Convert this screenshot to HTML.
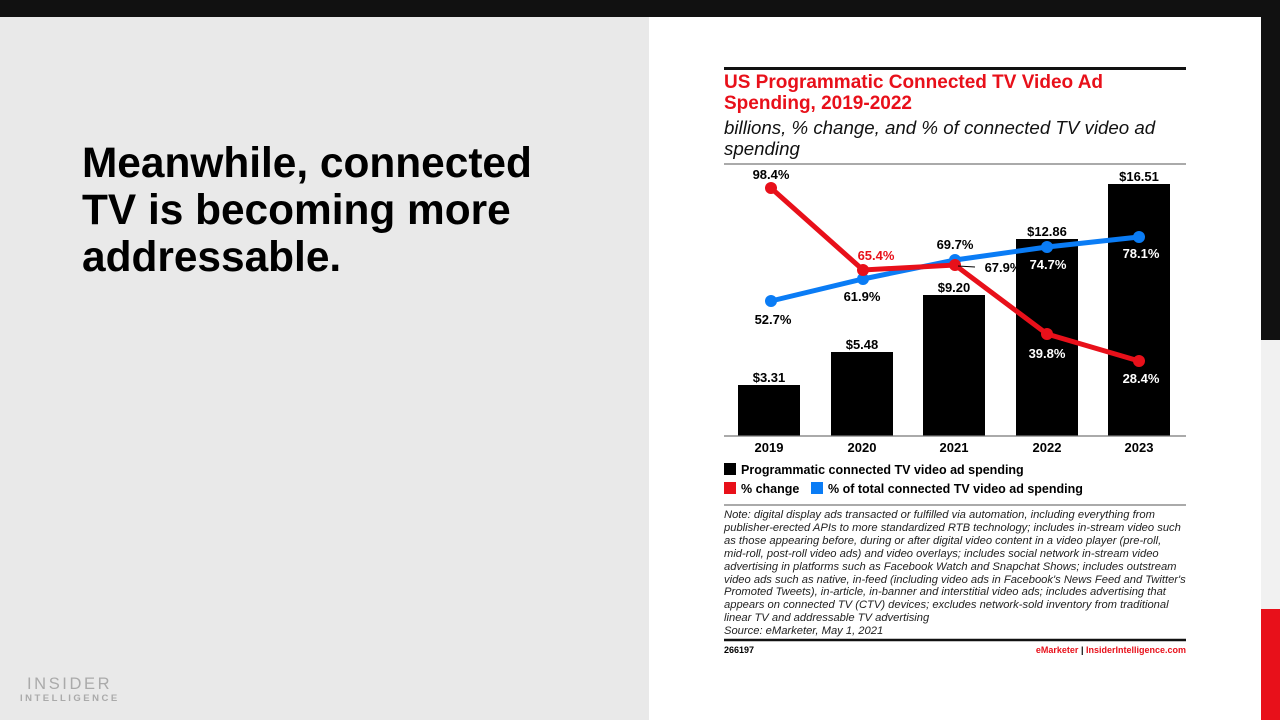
<!DOCTYPE html>
<html><head><meta charset="utf-8"><style>
body{margin:0;width:1280px;height:720px;position:relative;overflow:hidden;background:#e9e9e9;font-family:"Liberation Sans",sans-serif}
.a{position:absolute;white-space:nowrap}
</style></head><body>
<div class="a" style="left:0;top:0;width:1280px;height:17px;background:#111"></div>
<div class="a" style="left:649px;top:17px;width:612px;height:703px;background:#fff"></div>
<div class="a" style="left:1261px;top:17px;width:19px;height:323px;background:#111"></div>
<div class="a" style="left:1261px;top:340px;width:19px;height:269px;background:#f1f1f1"></div>
<div class="a" style="left:1261px;top:609px;width:19px;height:111px;background:#e8101a"></div>
<div class="a" style="left:82px;top:139px;font-size:42.4px;font-weight:bold;line-height:47px;color:#000">Meanwhile, connected<br>TV is becoming more<br>addressable.</div>
<div class="a" style="left:27px;top:675px;font-size:16.5px;letter-spacing:2.6px;color:#aaa">INSIDER</div>
<div class="a" style="left:20px;top:693px;font-size:9.5px;letter-spacing:2.5px;color:#aaa;font-weight:bold">INTELLIGENCE</div>

<div class="a" style="left:724px;top:67px;width:462px;height:3px;background:#111"></div>
<div class="a" style="left:724px;top:72px;font-size:19px;font-weight:bold;color:#e8101a;line-height:21px">US Programmatic Connected TV Video Ad<br>Spending, 2019-2022</div>
<div class="a" style="left:724px;top:117px;font-size:18.7px;font-style:italic;color:#111;line-height:21px">billions, % change, and % of connected TV video ad<br>spending</div>

<svg class="a" style="left:0;top:0" width="1280" height="720">
<line x1="724" y1="164" x2="1186" y2="164" stroke="#777" stroke-width="1.3"/>
<g fill="#000">
<rect x="738" y="385" width="62" height="51"/><rect x="831" y="352" width="62" height="84"/>
<rect x="923" y="295" width="62" height="141"/><rect x="1016" y="239" width="62" height="197"/>
<rect x="1108" y="184" width="62" height="252"/></g>
<line x1="724" y1="436" x2="1186" y2="436" stroke="#777" stroke-width="1.3"/>
<polyline points="771,301 863,279 955,260 1047,247 1139,237" fill="none" stroke="#0a7cf5" stroke-width="5"/>
<g fill="#0a7cf5"><circle cx="771" cy="301" r="6"/><circle cx="863" cy="279" r="6"/><circle cx="955" cy="260" r="6"/><circle cx="1047" cy="247" r="6"/><circle cx="1139" cy="237" r="6"/></g>
<polyline points="771,188 863,270 955,265 1047,334 1139,361" fill="none" stroke="#e8101a" stroke-width="5"/>
<g fill="#e8101a"><circle cx="771" cy="188" r="6"/><circle cx="863" cy="270" r="6"/><circle cx="955" cy="265" r="6"/><circle cx="1047" cy="334" r="6"/><circle cx="1139" cy="361" r="6"/></g>
<line x1="958" y1="266" x2="975" y2="267" stroke="#000" stroke-width="1"/>
<g font-family="Liberation Sans" font-weight="bold" font-size="13" text-anchor="middle">
<text x="769" y="382">$3.31</text><text x="862" y="349">$5.48</text><text x="954" y="292">$9.20</text><text x="1047" y="236">$12.86</text><text x="1139" y="181">$16.51</text>
<text x="771" y="179">98.4%</text><text x="876" y="260" fill="#e8101a">65.4%</text><text x="1003" y="272" text-anchor="middle">67.9%</text>
<text x="1047" y="358" fill="#fff">39.8%</text><text x="1141" y="383" fill="#fff">28.4%</text>
<text x="773" y="324">52.7%</text><text x="862" y="301">61.9%</text><text x="955" y="249">69.7%</text>
<text x="1048" y="269" fill="#fff">74.7%</text><text x="1141" y="258" fill="#fff">78.1%</text>
<text x="769" y="452">2019</text><text x="862" y="452">2020</text><text x="954" y="452">2021</text><text x="1047" y="452">2022</text><text x="1139" y="452">2023</text>
</g>
<rect x="724" y="463" width="12" height="12" fill="#000"/>
<rect x="724" y="482" width="12" height="12" fill="#e8101a"/>
<rect x="811" y="482" width="12" height="12" fill="#0a7cf5"/>
<g font-family="Liberation Sans" font-weight="bold" font-size="12.5">
<text x="741" y="474">Programmatic connected TV video ad spending</text>
<text x="741" y="493">% change</text>
<text x="828" y="493">% of total connected TV video ad spending</text></g>
<line x1="724" y1="505" x2="1186" y2="505" stroke="#777" stroke-width="1.3"/>
<line x1="724" y1="640" x2="1186" y2="640" stroke="#111" stroke-width="2.5"/>
<g font-family="Liberation Sans" font-weight="bold" font-size="9"><text x="724" y="653">266197</text>
<text x="1186" y="653" text-anchor="end" fill="#e8101a">eMarketer <tspan fill="#000">|</tspan> InsiderIntelligence.com</text></g>
</svg>
<div class="a" style="left:724px;top:509px;font-size:11.2px;font-style:italic;line-height:12.9px;color:#222">Note: digital display ads transacted or fulfilled via automation, including everything from<br>publisher-erected APIs to more standardized RTB technology; includes in-stream video such<br>as those appearing before, during or after digital video content in a video player (pre-roll,<br>mid-roll, post-roll video ads) and video overlays; includes social network in-stream video<br>advertising in platforms such as Facebook Watch and Snapchat Shows; includes outstream<br>video ads such as native, in-feed (including video ads in Facebook's News Feed and Twitter's<br>Promoted Tweets), in-article, in-banner and interstitial video ads; includes advertising that<br>appears on connected TV (CTV) devices; excludes network-sold inventory from traditional<br>linear TV and addressable TV advertising<br>Source: eMarketer, May 1, 2021</div>
</body></html>
